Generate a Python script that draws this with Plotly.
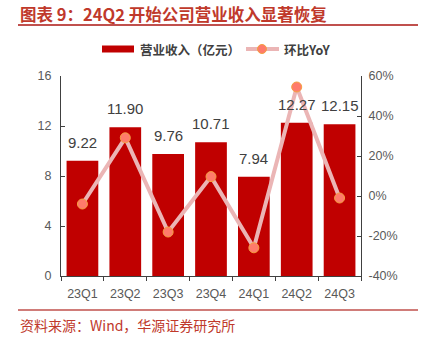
import plotly.graph_objects as go

quarters = ["23Q1", "23Q2", "23Q3", "23Q4", "24Q1", "24Q2", "24Q3"]
revenue = [9.22, 11.90, 9.76, 10.71, 7.94, 12.27, 12.15]
yoy = [-4.0, 29.1, -18.0, 9.7, -25.9, 54.5, -1.0]
left_ticks = [0, 4, 8, 12, 16]
right_ticks = [-40, -20, 0, 20, 40, 60]

CJK = "Noto Sans CJK SC"
LAT = "Arial, Liberation Sans"
L, R, T, B = 61, 65, 76, 61
W, H = 426, 337
pw, ph = W - L - R, H - T - B
BAR_COLOR = "#C00000"
LINE_COLOR = "#EBB5B5"
DOT_COLOR = "#FF7B6B"
DOT_EDGE = "#F4A040"

def px(x):
    return (x - L) / pw

def py(y):
    return (H - B - y) / ph

fig = go.Figure()
fig.add_trace(go.Bar(
    x=quarters, y=revenue, name="营业收入（亿元）",
    marker=dict(color=BAR_COLOR, line=dict(width=0)),
    showlegend=False,
))
fig.add_trace(go.Scatter(
    x=quarters, y=yoy, name="环比YoY", yaxis="y2", mode="lines+markers",
    line=dict(color=LINE_COLOR, width=4),
    marker=dict(color=DOT_COLOR, size=10, line=dict(color=DOT_EDGE, width=1)),
    showlegend=False,
))

annotations = [
    dict(x=q, y=v, xref="x", yref="y", text=f"{v:.2f}", showarrow=False,
         yanchor="bottom", yshift=8,
         font=dict(family=LAT, size=15, color="#404040"))
    for q, v in zip(quarters, revenue)
]
annotations += [
    dict(text="<b>图表 9：24Q2 开始公司营业收入显著恢复</b>", xref="paper", yref="paper",
         x=px(18), y=py(14), xanchor="left", yanchor="middle", showarrow=False,
         font=dict(family=CJK, size=16.5, color="#C0392B")),
    dict(text="资料来源：Wind，华源证券研究所", xref="paper", yref="paper",
         x=px(18), y=py(325), xanchor="left", yanchor="middle", showarrow=False,
         font=dict(family=CJK, size=14, color="#C0392B")),
    dict(text="<b>营业收入（亿元）</b>", xref="paper", yref="paper",
         x=px(138), y=py(49), xanchor="left", yanchor="middle", showarrow=False,
         font=dict(family=CJK, size=12.5, color="#404040")),
    dict(text="<b>环比YoY</b>", xref="paper", yref="paper",
         x=px(282), y=py(49), xanchor="left", yanchor="middle", showarrow=False,
         font=dict(family=CJK, size=12.5, color="#404040")),
]

shapes = [
    dict(type="line", xref="paper", yref="paper", x0=px(18), x1=px(418), y0=py(25), y1=py(25),
         line=dict(color="#C0504D", width=2)),
    dict(type="line", xref="paper", yref="paper", x0=px(18), x1=px(418), y0=py(310), y1=py(310),
         line=dict(color="#C0504D", width=1.5)),
    dict(type="rect", xref="paper", yref="paper", x0=px(102), x1=px(134), y0=py(52.5), y1=py(45.5),
         fillcolor=BAR_COLOR, line=dict(width=0)),
    dict(type="line", xref="paper", yref="paper", x0=px(246), x1=px(279), y0=py(49), y1=py(49),
         line=dict(color=LINE_COLOR, width=4)),
    dict(type="circle", xref="paper", yref="paper", x0=px(257.5), x1=px(266.5), y0=py(53.5), y1=py(44.5),
         fillcolor=DOT_COLOR, line=dict(color=DOT_EDGE, width=1)),
]

tickfont = dict(family=LAT, size=12.5, color="#595959")
fig.update_layout(
    width=W, height=H,
    margin=dict(l=L, r=R, t=T, b=B),
    paper_bgcolor="white", plot_bgcolor="white",
    bargap=0.26,
    showlegend=False,
    xaxis=dict(type="category", showline=True, linecolor="#404040", linewidth=1,
               ticks="outside", tickson="boundaries", ticklen=4, tickcolor="#404040",
               tickfont=tickfont, ticklabelstandoff=6,
               showgrid=False, zeroline=False),
    yaxis=dict(range=[0, 16], tickvals=left_ticks, showline=True, linecolor="#404040",
               linewidth=1, ticks="inside", ticklen=4, tickcolor="#404040",
               tickfont=tickfont, ticklabelstandoff=6,
               showgrid=False, zeroline=False),
    yaxis2=dict(range=[-40, 60], tickvals=right_ticks, ticktext=[f"{v}%" for v in right_ticks],
                overlaying="y", side="right", showline=True, linecolor="#404040",
                linewidth=1, ticks="inside", ticklen=4, tickcolor="#404040",
                tickfont=tickfont, ticklabelstandoff=4,
                showgrid=False, zeroline=False),
    shapes=shapes,
    annotations=annotations,
)

fig.write_html("out.html")
